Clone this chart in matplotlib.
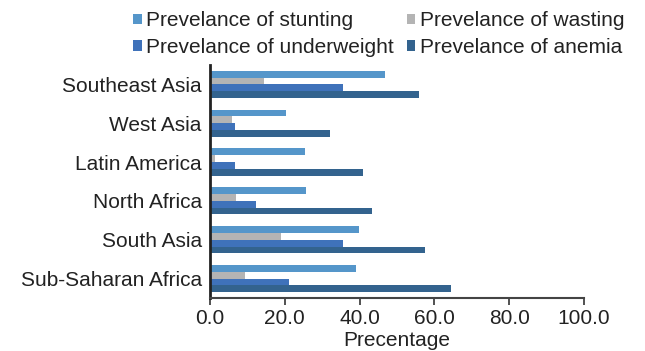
import matplotlib.pyplot as plt
import numpy as np

plt.rcParams['font.family'] = ['Liberation Sans', 'DejaVu Sans']

regions = ["Southeast Asia", "West Asia", "Latin America", "North Africa",
           "South Asia", "Sub-Saharan Africa"]
series_names = ["Prevelance of stunting", "Prevelance of wasting",
                "Prevelance of underweight", "Prevelance of anemia"]
stunting = [46.8, 20.4, 25.5, 25.8, 39.9, 39.1]
wasting = [14.5, 6.0, 1.4, 7.0, 19.1, 9.4]
underweight = [35.6, 6.8, 6.8, 12.4, 35.6, 21.2]
anemia = [56.0, 32.2, 41.0, 43.4, 57.6, 64.5]
x_ticks = [0, 20, 40, 60, 80, 100]

colors = ["#5596CA", "#B4B4B4", "#3F72BA", "#33638E"]
values = [stunting, wasting, underweight, anemia]

fig = plt.figure(figsize=(6.45, 3.51), dpi=100)
ax = fig.add_axes([0.3256, 0.151, 0.5798, 0.664])

y = np.arange(len(regions))[::-1]
h = 0.175
offsets = [1.5 * h, 0.5 * h, -0.5 * h, -1.5 * h]
handles = []
for vals, off, c, name in zip(values, offsets, colors, series_names):
    b = ax.barh(y + off, vals, height=h, color=c, label=name)
    handles.append(b)

ax.set_ylim(-0.5, len(regions) - 0.5)
ax.set_xlim(0, 100)
ax.set_yticks(y)
ax.set_yticklabels(regions, fontsize=15, color="#222222")
ax.set_xticks(x_ticks)
ax.set_xticklabels([f"{t:.1f}" for t in x_ticks], fontsize=15, color="#222222")
ax.tick_params(axis='y', length=0, pad=6)
ax.tick_params(axis='x', direction='out', length=5, width=1.2, color="#333333", pad=3)
ax.set_xlabel("Precentage", fontsize=15, color="#222222", labelpad=2)

for s in ("top", "right"):
    ax.spines[s].set_visible(False)
ax.spines["left"].set_linewidth(2)
ax.spines["left"].set_color("#222222")
ax.spines["bottom"].set_linewidth(1.5)
ax.spines["bottom"].set_color("#444444")

# legend filled row by row: matplotlib fills columns first, so reorder
order = [0, 2, 1, 3]
fig.legend(handles=[handles[i] for i in order],
           labels=[series_names[i] for i in order],
           loc="upper left", bbox_to_anchor=(0.189, 1.0), ncol=2,
           frameon=False, fontsize=15,
           handlelength=0.4, handleheight=0.4, handletextpad=0.2,
           columnspacing=0.65, labelspacing=0.35, borderaxespad=0.2,
           borderpad=0.35, labelcolor="#222222")

fig.savefig("out.png", dpi=100)
